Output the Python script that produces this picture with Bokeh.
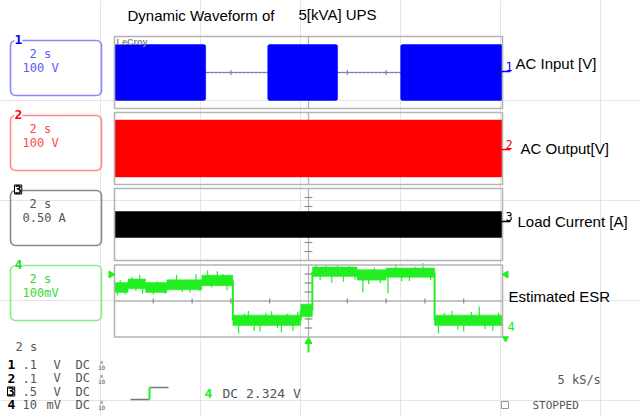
import math
from bokeh.plotting import figure
from bokeh.models import Range1d, Label
from bokeh.embed import file_html
from bokeh.resources import INLINE

time_per_div = 2.0          # s/div
n_xdiv = 10
t_end = time_per_div * n_xdiv

# channel 1: AC input, on/off intervals (s) and envelope peak (V)
ch1_on_start = [0.0, 7.9, 14.75]
ch1_on_end = [4.7, 11.5, 20.0]
ch1_peak_v = 311
# channel 2: AC output envelope (V)
ch2_peak_v = 316
# channel 3: load current envelope (A)
ch3_peak_a = 0.72
# channel 4: estimated ESR, piecewise levels (mV) with noise band half-width
ch4_seg_start = [0.0, 0.7, 1.6, 2.7, 4.5, 6.1, 9.6, 10.2, 12.5, 14.0, 16.5]
ch4_seg_end = [0.7, 1.6, 2.7, 4.5, 6.1, 9.6, 10.2, 12.5, 14.0, 16.5, 20.0]
ch4_level_mv = [150, 190, 150, 180, 228, -215, -105, 325, 290, 315, -215]
ch4_noise_mv = [55, 55, 55, 55, 58, 58, 70, 52, 58, 52, 58]
ch4_spike_t = [0.15, 0.3, 0.55, 0.9, 1.1, 1.3, 1.45, 2.0, 2.2, 2.6, 2.9, 3.2, 3.5,
               3.9, 4.2, 4.4, 4.8, 5.0, 5.3, 5.6, 5.8,
               6.4, 6.7, 6.9, 7.2, 7.5, 7.8, 8.1, 8.4, 8.6, 8.9, 9.2, 9.45,
               10.4, 10.6, 10.9, 11.2, 11.5, 11.8, 12.1, 12.4, 12.8, 13.1, 13.4,
               13.7, 14.1, 14.5, 14.8, 15.2, 15.5, 15.9, 16.3,
               16.7, 17.0, 17.4, 17.7, 18.0, 18.4, 18.8, 19.1, 19.5, 19.8]
ch4_spike_mv = [60, 230, 70, 270, 110, 290, 80, 70, 220, 80, 240, 290, 100,
                95, 300, 110, 340, 150, 330, 300, 120,
                -360, -140, -110, -330, -340, -130, -115, -300, -350, -140, -330, -120,
                400, 230, 395, 200, 400, 215, 390, 240, 95, 190, 370,
                200, 85, 410, 220, 220, 380, 420, 230,
                -360, -130, -110, -320, -340, -120, -60, -310, -330, -130]

# panel full-scale ranges (8 vertical divisions each)
panel_ranges = [(-400, 400), (-400, 400), (-2.0, 2.0), (-400, 400)]
box_label_1 = ["2 s", "2 s", "2 s", "2 s"]
box_label_2 = ["100 V", "100 V", "0.50 A", "100mV"]
right_names = ["AC Input [V]", "AC Output[V]", "Load Current [A]", "Estimated ESR"]
title_a = "Dynamic Waveform of"
title_b = "5[kVA] UPS"
bottom_vals = [".1", ".1", ".5", "10"]
bottom_units = ["V", "V", "V", "mV"]
bottom_probe = [True, True, False, True]

# ---------------- layout (pixels) ----------------
W, H = 640, 416
FX0, FX1 = 114, 502
panel_top = [36, 112, 188, 264.5]
PH = 72
ch_col = ["#0000ff", "#ff0000", "#000000", "#22ee22"]
box_col = ["#8888ff", "#ff8888", "#8a8a8a", "#88ee88"]
txt_col = ["#5a5aff", "#ff4a4a", "#555555", "#3ad83a"]
GRID = "#b4b4b4"
MONO = "DejaVu Sans Mono"
SANS = "Liberation Sans"

p = figure(width=W, height=H, x_range=Range1d(0, W), y_range=Range1d(H, 0),
           output_backend="svg", toolbar_location=None,
           x_axis_location=None, y_axis_location=None,
           min_border=0, outline_line_color=None)
p.background_fill_color = "white"
p.border_fill_color = "white"

pps = (FX1 - FX0) / t_end
p.extra_x_ranges = {"t": Range1d(-FX0 / pps, (W - FX0) / pps)}
for k, (lo, hi) in enumerate(panel_ranges):
    T = panel_top[k]
    B = T + PH
    s = (hi - lo) / PH
    p.extra_y_ranges[f"c{k}"] = Range1d(lo - (H - B) * s, hi + T * s)


def lab(x, y, text, size=12, color="#555555", font=MONO, align="left",
        baseline="middle", bold=False, **kw):
    p.add_layout(Label(x=x, y=y, text=text, text_font_size=f"{size}px",
                       text_color=color, text_font=font, text_align=align,
                       text_baseline=baseline,
                       text_font_style="bold" if bold else "normal", **kw))


# ---- grid: centre lines and division ticks ----
for k, (lo, hi) in enumerate(panel_ranges):
    T = panel_top[k]
    yc = T + PH / 2
    p.segment(x0=[0], y0=[yc], x1=[t_end], y1=[yc], x_range_name="t",
              line_color=GRID, line_width=1.3)
    p.segment(x0=[t_end / 2], y0=[T], x1=[t_end / 2], y1=[T + PH], x_range_name="t",
              line_color=GRID, line_width=1.3)
    tx = [i * time_per_div for i in range(1, n_xdiv) if i != n_xdiv // 2]
    p.segment(x0=tx, y0=[yc - 2.5] * len(tx), x1=tx, y1=[yc + 2.5] * len(tx),
              x_range_name="t", line_color="#888888", line_width=1.2)
    ty = [T + PH / 8 * i for i in range(1, 8) if i != 4]
    p.segment(x0=[t_end / 2 - 0.2] * len(ty), y0=ty, x1=[t_end / 2 + 0.2] * len(ty),
              y1=ty, x_range_name="t", line_color="#888888", line_width=1.2)

lab(116, 41, "LeCroy", size=9, color="#8a8a8a", font=SANS, bold=True)

# ---- channel 1 ----
p.segment(x0=[0], y0=[0], x1=[t_end], y1=[0], x_range_name="t", y_range_name="c0",
          line_color="#6a6ad0", line_width=1.2, line_dash="3 1")
p.quad(left=ch1_on_start, right=ch1_on_end, top=[ch1_peak_v] * 3,
       bottom=[-ch1_peak_v] * 3, x_range_name="t", y_range_name="c0",
       fill_color=ch_col[0], line_color=ch_col[0], line_width=0.5, border_radius=2)
# ---- channel 2 ----
p.quad(left=[0], right=[t_end], top=[ch2_peak_v], bottom=[-ch2_peak_v],
       x_range_name="t", y_range_name="c1", fill_color=ch_col[1], line_color=ch_col[1],
       line_width=0.5)
# ---- channel 3 ----
p.quad(left=[0], right=[t_end], top=[ch3_peak_a], bottom=[-ch3_peak_a],
       x_range_name="t", y_range_name="c2", fill_color=ch_col[2], line_color=ch_col[2],
       line_width=0.5)
# ---- channel 4 ----
top4 = [l + n for l, n in zip(ch4_level_mv, ch4_noise_mv)]
bot4 = [l - n for l, n in zip(ch4_level_mv, ch4_noise_mv)]
p.quad(left=ch4_seg_start, right=ch4_seg_end, top=top4, bottom=bot4,
       x_range_name="t", y_range_name="c3", fill_color=ch_col[3], line_color=ch_col[3],
       line_width=0.5)
jt = ch4_seg_start[1:]
j0 = ch4_level_mv[:-1]
j1 = ch4_level_mv[1:]
p.segment(x0=jt, y0=j0, x1=jt, y1=j1, x_range_name="t", y_range_name="c3",
          line_color=ch_col[3], line_width=2)


def level_at(t):
    for a, b, l in zip(ch4_seg_start, ch4_seg_end, ch4_level_mv):
        if a <= t < b:
            return l
    return ch4_level_mv[-1]


p.segment(x0=ch4_spike_t, y0=[level_at(t) for t in ch4_spike_t], x1=ch4_spike_t,
          y1=ch4_spike_mv, x_range_name="t", y_range_name="c3",
          line_color=ch_col[3], line_width=1.2)

# ---- panel frames ----
p.quad(left=[0] * 4, right=[t_end] * 4, top=panel_top,
       bottom=[t + PH for t in panel_top], x_range_name="t",
       fill_color=None, line_color=GRID, line_width=1.6)

# ---- left label boxes ----
box_top = [40, 115, 190, 265]
for k in range(4):
    T = box_top[k]
    p.quad(left=[10], right=[101], top=[T], bottom=[T + 55], fill_color=None,
           line_color=box_col[k], line_width=1.6, border_radius=5)
    if k == 2:
        lab(14, T - 1, "3", size=12, color="#000000", bold=True,
            background_fill_color="white", border_line_color="#000000")
    else:
        lab(14, T - 1, str(k + 1), size=13, color=ch_col[k] if k != 3 else "#22dd22",
            bold=True, background_fill_color="white")
    lab(29, T + 13.5, box_label_1[k], size=12, color=txt_col[k])
    lab(22, T + 27.5, box_label_2[k], size=12, color=txt_col[k])

# ---- right side markers and names ----
under_y = [71, 149, 221]
for k in range(3):
    lab(505, under_y[k] - 1, str(k + 1), size=12, color=ch_col[k], baseline="bottom")
    p.segment(x0=[501], y0=[under_y[k]], x1=[510], y1=[under_y[k]],
              line_color=ch_col[k], line_width=1.3)
name_pos = [(515, 63), (520, 148), (517, 221), (508, 296)]
for k in range(4):
    lab(name_pos[k][0], name_pos[k][1], right_names[k], size=15, color="#000000",
        font=SANS)

green = "#22ee22"
p.scatter(x=[110.5], y=[274], marker="triangle", size=7, angle=-math.pi / 2,
          fill_color=green, line_color=green)
p.scatter(x=[505.5], y=[274], marker="triangle", size=7, angle=math.pi / 2,
          fill_color=green, line_color=green)
lab(507, 326, "4", size=12, color=green)
p.scatter(x=[505], y=[338], marker="triangle", size=6, angle=math.pi,
          fill_color=green, line_color=green)
p.segment(x0=[t_end / 2], y0=[342], x1=[t_end / 2], y1=[352], x_range_name="t",
          line_color=green, line_width=2)
p.scatter(x=[t_end / 2], y=[341], x_range_name="t", marker="triangle", size=7,
          angle=0, fill_color=green, line_color=green)

# ---- title ----
lab(127, 15, title_a, size=15, color="#000000", font=SANS)
lab(298, 14, title_b, size=15, color="#000000", font=SANS)

# ---- bottom status text ----
lab(15, 346, "2  s", size=12)
row_y = [364, 377.5, 391, 404]
for k in range(4):
    if k == 2:
        lab(7, row_y[k], "3", size=12, color="#000000", bold=True,
            border_line_color="#000000")
    else:
        lab(7, row_y[k], str(k + 1), size=13, color="#000000", bold=True)
    lab(22, row_y[k], bottom_vals[k], size=12)
    lab(46 if bottom_units[k] == "mV" else 53, row_y[k], bottom_units[k], size=12)
    lab(75, row_y[k], "DC", size=12)
    if bottom_probe[k]:
        lab(101, row_y[k] - 3, "x", size=6, align="center")
        lab(101, row_y[k] + 3, "10", size=6, align="center")

p.segment(x0=[130, 149], y0=[399, 387], x1=[149, 168], y1=[399, 387],
          line_color="#777777", line_width=1.3)
p.segment(x0=[149], y0=[399], x1=[149], y1=[387], line_color=green, line_width=2)
lab(204, 393, "4", size=13, color=green, bold=True)
lab(222, 393, "DC 2.324 V", size=13)
lab(557, 379, "5 kS/s", size=12)
p.quad(left=[501], right=[508], top=[401], bottom=[408], fill_color=None,
       line_color="#999999", line_width=1)
lab(532, 405, "STOPPED", size=11)

open("out.html", "w").write(file_html(p, INLINE))
